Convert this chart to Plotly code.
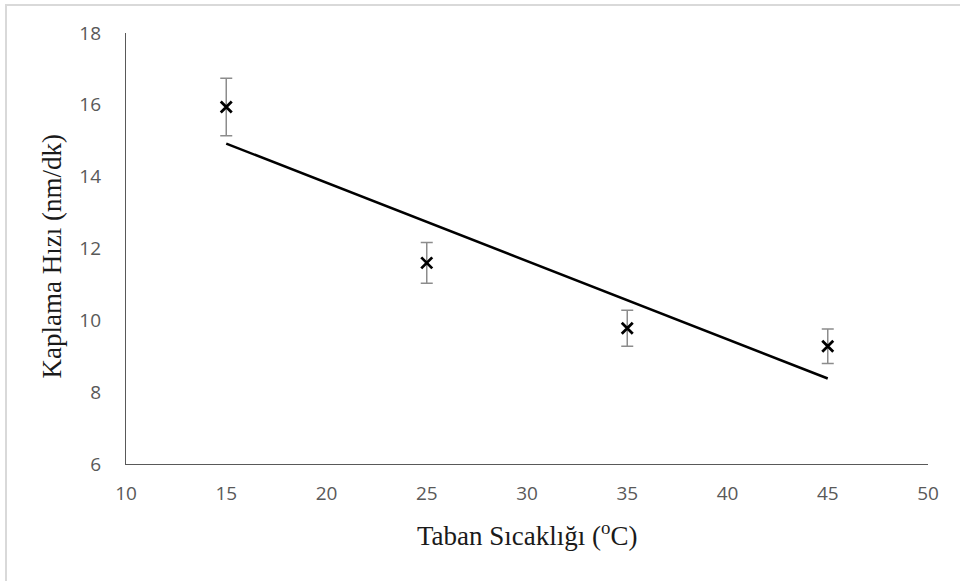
import numpy as np
import plotly.graph_objects as go

# Substrate temperature (°C) vs. deposition rate (nm/min)
temperature = [15, 25, 35, 45]
rate = [15.94, 11.6, 9.78, 9.28]
rate_err = [0.8, 0.57, 0.5, 0.48]

x_ticks = [10, 15, 20, 25, 30, 35, 40, 45, 50]
y_ticks = [6, 8, 10, 12, 14, 16, 18]

x_title = "Taban Sıcaklığı (<sup>o</sup>C)"
y_title = "Kaplama Hızı (nm/dk)"

# least-squares linear trend through the measured points
slope, intercept = np.polyfit(temperature, rate, 1)
trend_x = [temperature[0], temperature[-1]]
trend_y = [slope * t + intercept for t in trend_x]

fig = go.Figure()

fig.add_trace(go.Scatter(
    x=trend_x, y=trend_y, mode="lines",
    line=dict(color="black", width=2.5),
    showlegend=False, hoverinfo="skip",
))

fig.add_trace(go.Scatter(
    x=temperature, y=rate, mode="markers",
    marker=dict(symbol="x-thin", size=11, color="black",
                line=dict(color="black", width=2.8)),
    error_y=dict(type="data", array=rate_err, visible=True,
                 color="#8c8c8c", thickness=1.5, width=6),
    showlegend=False,
))

tick_font = dict(family="Open Sans, Liberation Sans, sans-serif", size=19, color="#595959")
title_font = dict(family="Liberation Serif, Times New Roman, serif", size=27, color="#1a1a1a")

fig.update_layout(
    width=960, height=581,
    margin=dict(l=126, r=32, t=33, b=117),
    paper_bgcolor="white", plot_bgcolor="white",
    xaxis=dict(
        range=[10, 50], tickvals=x_ticks, showgrid=False, zeroline=False,
        showline=True, linecolor="#595959", linewidth=1.3,
        ticks="", tickfont=tick_font, ticklabelstandoff=12,
    ),
    yaxis=dict(
        range=[6, 18], tickvals=y_ticks, showgrid=False, zeroline=False,
        showline=True, linecolor="#595959", linewidth=1.3,
        ticks="", tickfont=tick_font, ticklabelstandoff=20,
    ),
    annotations=[
        dict(text=x_title, xref="paper", yref="paper", x=0.5, y=-0.163,
             xanchor="center", yanchor="middle", showarrow=False, font=title_font),
        dict(text=y_title, xref="paper", yref="paper", x=-0.092, y=0.482,
             xanchor="center", yanchor="middle", textangle=-90,
             showarrow=False, font=title_font),
    ],
    shapes=[dict(
        type="rect", xref="paper", yref="paper",
        x0=-0.1496, x1=1.2, y0=-0.4, y1=1.065,
        line=dict(color="#d9d9d9", width=2), fillcolor="rgba(0,0,0,0)",
        layer="below",
    )],
)

fig.write_html("out.html")
